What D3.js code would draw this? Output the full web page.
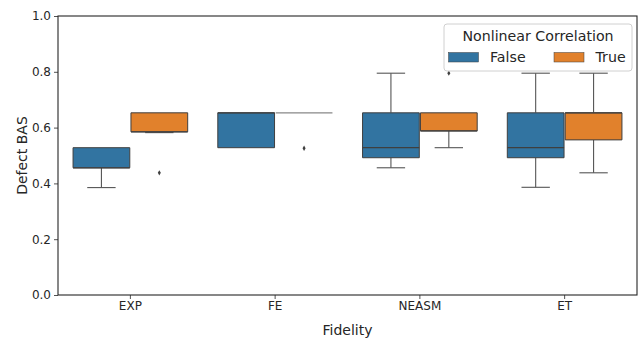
<!DOCTYPE html>
<html>
<head>
<meta charset="utf-8">
<script src="https://cdn.jsdelivr.net/npm/d3@7"></script>
<style>
	body { margin: 0; background: #fff; }
	svg text { font-family: "DejaVu Sans", sans-serif; fill: #262626; }
</style>
</head>
<body>
<svg id="chart" width="639" height="339"></svg>
<script>
// Categories on the x axis and the hue groups
const fidelities = ['EXP', 'FE', 'NEASM', 'ET'];
const hues = ['False', 'True'];
const hueColors = ['#3274a1', '#e1812c'];
const yTicks = [0.0, 0.2, 0.4, 0.6, 0.8, 1.0];

// Box statistics per fidelity, one array per hue
const falseWhiskerLow  = [0.385, null,  0.456, 0.386];
const falseQ1          = [0.456, 0.528, 0.492, 0.492];
const falseMedian      = [0.456, 0.653, 0.528, 0.528];
const falseQ3          = [0.528, 0.653, 0.653, 0.653];
const falseWhiskerHigh = [null,  null,  0.795, 0.795];
const falseOutliers    = [[], [], [], []];

const trueWhiskerLow   = [0.582, null,  0.528, 0.438];
const trueQ1           = [0.585, 0.653, 0.588, 0.556];
const trueMedian       = [0.585, 0.653, 0.588, 0.653];
const trueQ3           = [0.653, 0.653, 0.653, 0.653];
const trueWhiskerHigh  = [null,  null,  null,  0.795];
const trueOutliers     = [[0.438], [0.526], [0.795], []];

const margin = {top: 16, right: 2, bottom: 44, left: 58};
const W = 639, H = 339;

const boxes = [];
fidelities.forEach((f, i) => {
	boxes.push({cat: f, hue: 'False', lo: falseWhiskerLow[i], q1: falseQ1[i], med: falseMedian[i],
		q3: falseQ3[i], hi: falseWhiskerHigh[i], out: falseOutliers[i]});
	boxes.push({cat: f, hue: 'True', lo: trueWhiskerLow[i], q1: trueQ1[i], med: trueMedian[i],
		q3: trueQ3[i], hi: trueWhiskerHigh[i], out: trueOutliers[i]});
});

const svg = d3.select('#chart');

const x = d3.scaleBand()
	.domain(fidelities)
	.range([margin.left, W - margin.right])
	.paddingInner(0.2)
	.paddingOuter(0.1);
const xHue = d3.scaleBand()
	.domain(hues)
	.range([0, x.bandwidth()]);
const color = d3.scaleOrdinal().domain(hues).range(hueColors);
const y = d3.scaleLinear()
	.domain([0, 1])
	.range([H - margin.bottom, margin.top]);

const edge = '#3f3f3f';
const whisk = '#555';

// Boxes
const g = svg.append('g');
boxes.forEach(b => {
	const hw = xHue.bandwidth();
	const x0 = x(b.cat) + xHue(b.hue) + hw * 0.01;
	const bw = hw * 0.98;
	const cx = x0 + bw / 2;
	const capW = bw / 2;

	if (b.lo !== null && b.lo < b.q1) {
		g.append('line').attr('x1', cx).attr('x2', cx)
			.attr('y1', y(b.q1)).attr('y2', y(b.lo))
			.attr('stroke', whisk).attr('stroke-width', 1.1);
		g.append('line').attr('x1', cx - capW / 2).attr('x2', cx + capW / 2)
			.attr('y1', y(b.lo)).attr('y2', y(b.lo))
			.attr('stroke', whisk).attr('stroke-width', 1.1);
	}
	if (b.hi !== null && b.hi > b.q3) {
		g.append('line').attr('x1', cx).attr('x2', cx)
			.attr('y1', y(b.q3)).attr('y2', y(b.hi))
			.attr('stroke', whisk).attr('stroke-width', 1.1);
		g.append('line').attr('x1', cx - capW / 2).attr('x2', cx + capW / 2)
			.attr('y1', y(b.hi)).attr('y2', y(b.hi))
			.attr('stroke', whisk).attr('stroke-width', 1.1);
	}

	const degenerate = b.q1 === b.q3;
	g.append('path')
		.attr('d', `M${x0},${y(b.q3)}H${x0 + bw}V${y(b.q1)}H${x0}Z`)
		.attr('fill', color(b.hue))
		.attr('stroke', degenerate ? '#888' : edge)
		.attr('stroke-width', degenerate ? 1.2 : 1);

	if (!degenerate) {
		g.append('line').attr('x1', x0).attr('x2', x0 + bw)
			.attr('y1', y(b.med)).attr('y2', y(b.med))
			.attr('stroke', edge).attr('stroke-width', 1.3);
	}

	b.out.forEach(v => {
		g.append('path')
			.attr('d', d3.symbol(d3.symbolDiamond, 8)())
			.attr('transform', `translate(${cx},${y(v)})`)
			.attr('fill', edge);
	});
});

// Axes
const yAxis = svg.append('g')
	.attr('transform', `translate(${margin.left},0)`)
	.call(d3.axisLeft(y).tickValues(yTicks).tickFormat(d3.format('.1f')).tickSize(4).tickPadding(3));
const xAxis = svg.append('g')
	.attr('transform', `translate(0,${H - margin.bottom})`)
	.call(d3.axisBottom(x).tickSize(4).tickPadding(2));
[xAxis, yAxis].forEach(a => {
	a.selectAll('text').attr('font-size', 12).attr('font-family', '"DejaVu Sans", sans-serif').attr('fill', '#262626');
	a.selectAll('line').attr('stroke', '#262626').attr('stroke-width', 0.8);
	a.select('.domain').remove();
});

// Frame
svg.append('rect')
	.attr('x', margin.left).attr('y', margin.top)
	.attr('width', W - margin.left - margin.right)
	.attr('height', H - margin.top - margin.bottom)
	.attr('fill', 'none').attr('stroke', '#262626').attr('stroke-width', 1.1);

// Axis labels
svg.append('text')
	.attr('x', (margin.left + W - margin.right) / 2).attr('y', 335)
	.attr('text-anchor', 'middle').attr('font-size', 14)
	.text('Fidelity');
svg.append('text')
	.attr('transform', `translate(27,${(margin.top + H - margin.bottom) / 2}) rotate(-90)`)
	.attr('text-anchor', 'middle').attr('font-size', 14)
	.text('Defect BAS');

// Legend
const lg = svg.append('g').attr('transform', 'translate(444,24)');
lg.append('rect')
	.attr('width', 188).attr('height', 47).attr('rx', 3)
	.attr('fill', '#fff').attr('fill-opacity', 0.85)
	.attr('stroke', '#d0d0d0').attr('stroke-width', 1);
lg.append('text')
	.attr('x', 94).attr('y', 17).attr('text-anchor', 'middle')
	.attr('font-size', 14.2)
	.text('Nonlinear Correlation');
const entryX = [4.5, 110];
hues.forEach((h, i) => {
	lg.append('rect')
		.attr('x', entryX[i]).attr('y', 28.5).attr('width', 30).attr('height', 9.5)
		.attr('fill', color(h)).attr('stroke', edge).attr('stroke-width', 0.5);
	lg.append('text')
		.attr('x', entryX[i] + 41.5).attr('y', 37.5)
		.attr('font-size', 14.2)
		.text(h);
});
</script>
</body>
</html>
